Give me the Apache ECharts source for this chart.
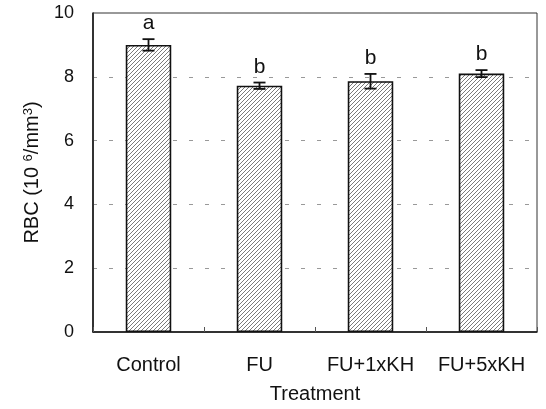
<!DOCTYPE html>
<html>
<head>
<meta charset="utf-8">
<script src="https://cdn.jsdelivr.net/npm/echarts@6/dist/echarts.min.js"></script>
<style>html,body{margin:0;padding:0;background:#fff;}#c{width:546px;height:409px;}</style>
</head>
<body>
<div id="c"></div>
<script>
const categories = ['Control', 'FU', 'FU+1xKH', 'FU+5xKH'];
const values = [9.0, 7.72, 7.86, 8.1];
const errors = [0.18, 0.1, 0.23, 0.11];
const letters = ['a', 'b', 'b', 'b'];
const yTicks = [0, 2, 4, 6, 8, 10];

const FONT = 'Liberation Sans';

// hatch pattern
const pc = document.createElement('canvas');
pc.width = 4; pc.height = 4;
const g = pc.getContext('2d');
g.fillStyle = '#ffffff'; g.fillRect(0, 0, 4, 4);
g.strokeStyle = '#7a7a7a'; g.lineWidth = 1;
g.beginPath();
g.moveTo(0, 4); g.lineTo(4, 0);
g.moveTo(-1, 1); g.lineTo(1, -1);
g.moveTo(3, 5); g.lineTo(5, 3);
g.stroke();

const chart = echarts.init(document.getElementById('c'), null, {renderer: 'canvas'});
const errData = values.map((v, i) => [i, v, errors[i], letters[i]]);

chart.setOption({
  animation: false,
  backgroundColor: '#fff',
  grid: {left: 93, right: 9, top: 13, bottom: 76, show: true, borderColor: '#333', borderWidth: 1, backgroundColor: 'transparent'},
  xAxis: {
    type: 'category',
    data: categories,
    name: 'Treatment',
    nameLocation: 'middle',
    nameGap: 52,
    nameTextStyle: {fontFamily: FONT, fontSize: 20, color: '#111'},
    axisLine: {lineStyle: {color: '#111', width: 1.5}},
    axisTick: {show: true, inside: true, length: 5, interval: 0, lineStyle: {color: '#555'}},
    axisLabel: {fontFamily: FONT, fontSize: 20, color: '#111', margin: 23, interval: 0},
    splitLine: {show: false}
  },
  yAxis: {
    type: 'value',
    min: yTicks[0], max: yTicks[yTicks.length - 1], interval: 2,
    name: '{a|RBC (10 }{s|6}{a|/mm}{s|3}{a|)}',
    nameLocation: 'middle',
    nameGap: 50,
    nameRotate: 90,
    nameTextStyle: {
      rich: {
        a: {fontFamily: FONT, fontSize: 20, color: '#111'},
        s: {fontFamily: FONT, fontSize: 13, color: '#111', verticalAlign: 'top', padding: [0, 0, 8, 0]}
      }
    },
    axisLine: {show: true, lineStyle: {color: '#111', width: 1.5}},
    axisTick: {show: false},
    axisLabel: {fontFamily: FONT, fontSize: 18, color: '#111', margin: 19},
    splitLine: {show: true, lineStyle: {color: '#999', type: [4, 12], width: 1}}
  },
  series: [
    {
      type: 'bar',
      data: values,
      barWidth: '41%',
      itemStyle: {color: {image: pc, repeat: 'repeat'}, borderColor: '#111', borderWidth: 1.6},
      z: 2
    },
    {
      type: 'custom',
      data: errData,
      z: 5,
      renderItem: function (params, api) {
        const i = api.value(0), v = api.value(1), e = api.value(2);
        const top = api.coord([i, v + e]);
        const bot = api.coord([i, v - e]);
        const w = 6;
        const style = {stroke: '#111', lineWidth: 1.8};
        return {
          type: 'group',
          children: [
            {type: 'line', shape: {x1: top[0], y1: top[1], x2: bot[0], y2: bot[1]}, style: style},
            {type: 'line', shape: {x1: top[0] - w, y1: top[1], x2: top[0] + w, y2: top[1]}, style: style},
            {type: 'line', shape: {x1: bot[0] - w, y1: bot[1], x2: bot[0] + w, y2: bot[1]}, style: style},
            {type: 'text', x: top[0], y: top[1] - 5, style: {text: letters[params.dataIndex], fontFamily: FONT, fontSize: 21, fill: '#111', align: 'center', verticalAlign: 'bottom'}}
          ]
        };
      }
    }
  ]
});
</script>
</body>
</html>
